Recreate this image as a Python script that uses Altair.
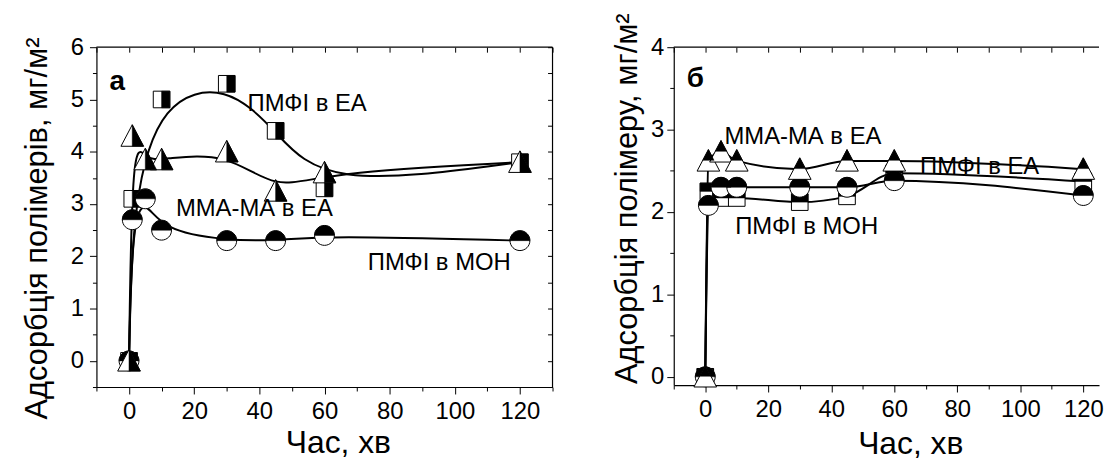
import altair as alt
import pandas as pd

FONT = "Liberation Sans"

# ---------------- data: panel "а" ----------------
a_t_sq = [0, 1, 10, 30, 45, 60, 120]
a_sq = [0, 3.1, 5.0, 5.3, 4.4, 3.3, 3.8]          # ПМФІ в ЕА (squares)
a_t = [0, 1, 5, 10, 30, 45, 60, 120]
a_ci = [0, 2.7, 3.1, 2.5, 2.3, 2.3, 2.4, 2.3]      # ПМФІ в МОН (circles)
a_tr = [0, 4.3, 3.85, 3.85, 4.0, 3.25, 3.6, 3.8]   # ММА-МА в ЕА (triangles)

# ---------------- data: panel "б" ----------------
b_t = [0, 1, 5, 10, 30, 45, 60, 120]
b_sq = [0, 2.25, 2.17, 2.17, 2.12, 2.19, 2.47, 2.37]
b_ci = [0, 2.08, 2.3, 2.3, 2.3, 2.3, 2.38, 2.2]
b_tr = [0, 2.62, 2.73, 2.62, 2.52, 2.62, 2.62, 2.52]

# ---------------- ticks ----------------
x_ticks = [-10, 0, 10, 20, 30, 40, 50, 60, 70, 80, 90, 100, 110, 120, 130]
a_y_ticks = [-0.5, 0, 0.5, 1, 1.5, 2, 2.5, 3, 3.5, 4, 4.5, 5, 5.5, 6]
b_y_ticks = [0, 0.5, 1, 1.5, 2, 2.5, 3, 3.5, 4]

# ---------------- annotations ----------------
a_labels = ["ПМФІ в ЕА", "ММА-МА в ЕА", "ПМФІ в МОН"]
a_label_t = [36.4, 14.4, 73.3]
a_label_v = [4.91, 2.91, 1.87]
b_labels = ["ММА-МА в ЕА", "ПМФІ в ЕА", "ПМФІ в МОН"]
b_label_t = [6.1, 68.2, 9.5]
b_label_v = [2.91, 2.55, 1.82]

# marker shapes (unit square coordinates)
SQ = "M-1,-1L1,-1L1,1L-1,1Z"
SQ_RIGHT = "M0,-1L1,-1L1,1L0,1Z"
SQ_TOP = "M-1,-1L1,-1L1,0L-1,0Z"
TR = "M0,-1L1,0.9L-1,0.9Z"
TR_RIGHT = "M0,-1L1,0.9L0,0.9Z"
TR_TOP = "M0,-1L0.5,-0.05L-0.5,-0.05Z"
CI = "M1,0A1,1,0,1,1,-1,0A1,1,0,1,1,1,0Z"
CI_TOP = "M-1,0A1,1,0,0,1,1,0Z"


def cond(test, big, small):
    return {"condition": {"test": test, "value": big}, "value": small}


def panel(series, W, H, xdom, ydom, yticks, ytitle, ytitleX, ytitleY, ylabpad,
          xtitleX, xtitleY, interp, labels, lab_t, lab_v, letter, letter_t, letter_v,
          right_axis):
    xs = alt.Scale(domain=xdom, nice=False, zero=False)
    ys = alt.Scale(domain=ydom, nice=False, zero=False)

    rows = []
    for name, ts, vs, full, half, size in series:
        for t, v in zip(ts, vs):
            rows.append({"t": t, "v": v, "s": name})
    df = pd.DataFrame(rows)

    x_bottom = alt.Axis(
        orient="bottom", values=x_ticks,
        labelExpr="datum.value % 20 == 0 ? toString(datum.value) : ''",
        tickSize=cond("datum.value % 20 == 0", 7, 4),
        labelPadding=6, labelFontSize=24, labelFont=FONT, labelColor="black",
        labelFlush=False, labelOverlap=False,
        tickColor="black", tickWidth=1, domain=True, domainColor="black", domainWidth=1.2,
        grid=False, title="Час, хв", titleFont=FONT, titleFontSize=32,
        titleFontWeight="normal", titleColor="black", titleX=xtitleX, titleY=xtitleY,
        titleBaseline="top", titleAlign="center",
    )
    y_left = alt.Axis(
        orient="left", values=yticks,
        labelExpr="datum.value % 1 == 0 ? toString(datum.value) : ''",
        tickSize=cond("datum.value % 1 == 0", 7, 4),
        labelPadding=ylabpad, labelFontSize=24, labelFont=FONT, labelColor="black",
        labelFlush=False, labelOverlap=False,
        tickColor="black", tickWidth=1, domain=True, domainColor="black", domainWidth=1.2,
        grid=False, title=ytitle, titleFont=FONT, titleFontSize=31,
        titleFontWeight="normal", titleColor="black", titleAngle=270,
        titleBaseline="bottom", titleAlign="center", titleX=ytitleX, titleY=ytitleY,
    )
    x_top = alt.Axis(orient="top", values=x_ticks, labels=False, domain=False,
                     tickSize=5, offset=-5, tickColor="black", grid=False, title=None)
    if right_axis:
        y_right = alt.Axis(orient="right", values=yticks, labels=False, domain=False,
                           tickSize=5, offset=-5, tickColor="black", grid=False, title=None)
    else:
        y_right = alt.Axis(orient="right", values=yticks, labels=False, domain=False,
                           ticks=False, grid=False, title=None)

    layers = []
    layers.append(
        alt.Chart(df).mark_line(color="black", strokeWidth=2, interpolate=interp).encode(
            x=alt.X("t:Q", scale=xs, axis=x_bottom),
            y=alt.Y("v:Q", scale=ys, axis=y_left),
            detail="s:N",
        )
    )
    first = True
    for name, ts, vs, full, half, size in series:
        sdf = pd.DataFrame({"t": ts, "v": vs})
        if first:
            xa = x_top
            ya = y_right
            first = False
        else:
            xa = None
            ya = None
        layers.append(
            alt.Chart(sdf).mark_point(shape=full, size=size, filled=True, fill="white",
                                      stroke="black", strokeWidth=1, opacity=1).encode(
                x=alt.X("t:Q", scale=xs, axis=xa),
                y=alt.Y("v:Q", scale=ys, axis=ya),
            )
        )
        layers.append(
            alt.Chart(sdf).mark_point(shape=half, size=size, filled=True, fill="black",
                                      stroke="black", strokeWidth=0.5, opacity=1).encode(
                x=alt.X("t:Q", scale=xs, axis=None),
                y=alt.Y("v:Q", scale=ys, axis=None),
            )
        )

    ldf = pd.DataFrame({"t": lab_t, "v": lab_v, "txt": labels})
    layers.append(
        alt.Chart(ldf).mark_text(font=FONT, fontSize=24, align="left", baseline="middle",
                                 color="black").encode(
            x=alt.X("t:Q", scale=xs, axis=None),
            y=alt.Y("v:Q", scale=ys, axis=None),
            text="txt:N",
        )
    )
    letdf = pd.DataFrame({"t": [letter_t], "v": [letter_v], "txt": [letter]})
    layers.append(
        alt.Chart(letdf).mark_text(font=FONT, fontSize=28, fontWeight="bold", align="left",
                                   baseline="middle", color="black").encode(
            x=alt.X("t:Q", scale=xs, axis=None),
            y=alt.Y("v:Q", scale=ys, axis=None),
            text="txt:N",
        )
    )
    one = pd.DataFrame({"k": [0]})
    layers.append(
        alt.Chart(one).mark_rule(color="black", strokeWidth=1.2).encode(
            x=alt.value(0), x2=alt.value(W), y=alt.value(0)
        )
    )
    if right_axis:
        layers.append(
            alt.Chart(one).mark_rule(color="black", strokeWidth=1.2).encode(
                x=alt.value(W), y=alt.value(0), y2=alt.value(H)
            )
        )
    return alt.layer(*layers).properties(width=W, height=H)


left = panel(
    series=[
        ("ПМФІ в ЕА", a_t_sq, a_sq, SQ, SQ_RIGHT, 280),
        ("ПМФІ в МОН", a_t, a_ci, CI, CI_TOP, 400),
        ("ММА-МА в ЕА", a_t, a_tr, TR, TR_RIGHT, 520),
    ],
    W=459, H=342, xdom=[-10, 130], ydom=[-0.5, 6], yticks=a_y_ticks,
    ytitle="Адсорбція полімерів, мг/м²", ytitleX=-43, ytitleY=182, ylabpad=6,
    xtitleX=243, xtitleY=41, interp="basis",
    labels=a_labels, lab_t=a_label_t, lab_v=a_label_v,
    letter="а", letter_t=-6.0, letter_v=5.34, right_axis=True,
)

right = panel(
    series=[
        ("ПМФІ в ЕА", b_t, b_sq, SQ, SQ_TOP, 280),
        ("ПМФІ в МОН", b_t, b_ci, CI, CI_TOP, 400),
        ("ММА-МА в ЕА", b_t, b_tr, TR, TR_TOP, 520),
    ],
    W=428, H=340, xdom=[-10, 125], ydom=[-0.1, 4], yticks=b_y_ticks,
    ytitle="Адсорбція полімеру, мг/м²", ytitleX=-30, ytitleY=152, ylabpad=3,
    xtitleX=238, xtitleY=44, interp="monotone",
    labels=b_labels, lab_t=b_label_t, lab_v=b_label_v,
    letter="б", letter_t=-5.9, letter_v=3.61, right_axis=False,
)

chart = alt.hconcat(left, right, spacing=122, bounds="flush").properties(
    padding={"left": 13, "top": 3, "right": 0, "bottom": 0}
).configure_view(strokeWidth=0)

chart.save("out.html", embed_options={"renderer": "svg", "actions": False})
